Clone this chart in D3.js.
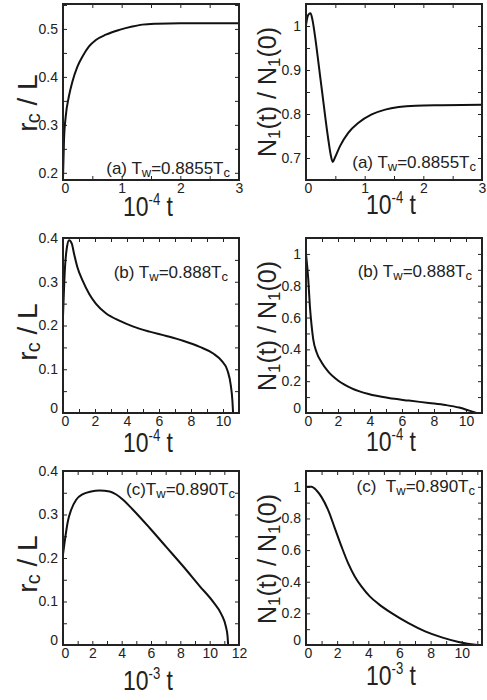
<!DOCTYPE html>
<html><head><meta charset="utf-8">
<script src="https://cdn.jsdelivr.net/npm/d3@7"></script>
<style>
body{margin:0;background:#fff;}
svg{display:block;}
text{font-family:"Liberation Sans",Arial,Helvetica,sans-serif;fill:#222;}
</style></head><body>
<svg id="c" width="487" height="700"></svg>
<script>
// ---- data ----
const tA1 = [0,0.017,0.046,0.1,0.16,0.244,0.33,0.44,0.56,0.73,0.96,1.18,1.35,1.6,2,3];
const rA1 = [0.19,0.268,0.317,0.359,0.39,0.421,0.442,0.463,0.477,0.488,0.498,0.505,0.509,0.511,0.512,0.512];
const tA2 = [0,0.037,0.077,0.11,0.163,0.22,0.277,0.334,0.38,0.426,0.455,0.49,0.58,0.72,0.895,1.12,1.35,1.58,1.87,2.32,3];
const nA2 = [1.002,1.025,1.029,1.014,0.968,0.908,0.848,0.787,0.742,0.704,0.691,0.70,0.727,0.757,0.78,0.799,0.81,0.816,0.819,0.82,0.821];
const tB1 = [0,0.12,0.25,0.38,0.55,0.69,0.9,1.22,1.64,2.05,2.68,3.52,4.36,5.41,6.46,7.5,8.55,9.39,9.92,10.29,10.48,10.59,10.63];
const rB1 = [0.22,0.33,0.38,0.395,0.387,0.364,0.333,0.303,0.272,0.25,0.228,0.211,0.198,0.186,0.176,0.165,0.151,0.136,0.119,0.096,0.065,0.027,0];
const tB2 = [0,0.14,0.24,0.35,0.45,0.66,0.97,1.39,2.02,2.86,3.91,5.17,6.43,7.68,8.73,9.57,10.2,10.68];
const nB2 = [1.0,0.843,0.675,0.549,0.465,0.382,0.319,0.26,0.203,0.155,0.119,0.094,0.078,0.063,0.05,0.034,0.015,0];
const tC1 = [0,0.15,0.33,0.56,0.9,1.36,1.92,2.49,3.18,3.63,4.09,4.77,5.91,7.05,8.19,9.33,10.24,10.81,11.1,11.22,11.26];
const rC1 = [0.208,0.246,0.284,0.311,0.334,0.347,0.353,0.355,0.353,0.346,0.334,0.311,0.269,0.225,0.181,0.135,0.099,0.07,0.043,0.02,0];
const tC2 = [0,0.35,0.68,1.0,1.43,1.86,2.29,2.71,3.14,3.57,4.11,4.65,5.5,6.58,7.65,8.72,9.8,10.87,11.2];
const nC2 = [1.0,1.0,0.977,0.935,0.851,0.736,0.62,0.516,0.432,0.369,0.306,0.26,0.201,0.138,0.086,0.048,0.019,0.002,0];

const xTickLabelsA = [0,1,2,3];
const xTickLabelsBC = [0,2,4,6,8,10];
const xTickLabelsC1 = [0,2,4,6,8,10,12];
const yLabelsA1 = [0.2,0.3,0.4,0.5];
const yLabelsA2 = [0.7,0.8,0.9,1];
const yLabelsR = [0,0.1,0.2,0.3,0.4];
const yLabelsN = [0,0.2,0.4,0.6,0.8,1];

const svg = d3.select("#c");
const cols = [[63,239],[306,482]];
const rows = [[4,180],[238,413],[471,645]];

const panels = [
 {col:0,row:0,t:tA1,v:rA1,xd:[0,3],yd:[0.185,0.552],xt:0.5,xl:xTickLabelsA,yt:0.05,yl:yLabelsA1,
  note:["(a) T","w","=0.8855T","c"],nx:230,ny:174,xlab:"-4",xly:216,ylab:"r",ylx:28,yly:103},
 {col:1,row:0,t:tA2,v:nA2,xd:[0,3],yd:[0.65,1.05],xt:0.5,xl:xTickLabelsA,yt:0.05,yl:yLabelsA2,
  note:["(a) T","w","=0.8855T","c"],nx:476,ny:168,xlab:"-4",xly:214,ylab:"N",ylx:267,yly:92},
 {col:0,row:1,t:tB1,v:rB1,xd:[0,11],yd:[0,0.4],xt:1,xl:xTickLabelsBC,yt:0.05,yl:yLabelsR,
  note:["(b) T","w","=0.888T","c"],nx:228,ny:278,xlab:"-4",xly:452,ylab:"r",ylx:28,yly:332},
 {col:1,row:1,t:tB2,v:nB2,xd:[0,11],yd:[0,1.1],xt:1,xl:xTickLabelsBC,yt:0.1,yl:yLabelsN,
  note:["(b) T","w","=0.888T","c"],nx:472,ny:277,xlab:"-4",xly:451,ylab:"N",ylx:267,yly:326},
 {col:0,row:2,t:tC1,v:rC1,xd:[0,12],yd:[0,0.4],xt:1,xl:xTickLabelsC1,yt:0.05,yl:yLabelsR,
  note:["(c)T","w","=0.890T","c"],nx:235,ny:495,xlab:"-3",xly:690,ylab:"r",ylx:28,yly:564},
 {col:1,row:2,t:tC2,v:nC2,xd:[0,11.3],yd:[0,1.1],xt:1,xl:xTickLabelsBC,yt:0.1,yl:yLabelsN,
  note:["(c)\u00a0\u00a0T","w","=0.890T","c"],nx:475,ny:492,xlab:"-3",xly:685,ylab:"N",ylx:267,yly:559}
];

function range(a,b,s){const r=[];for(let v=a;v<=b+1e-9;v+=s)r.push(+v.toFixed(6));return r;}
function fmtY(d){return d===0?"0":d===1?"1":d3.format(".1f")(d);}

panels.forEach(p=>{
  const [x0,x1]=cols[p.col], [y0,y1]=rows[p.row];
  const x=d3.scaleLinear().domain(p.xd).range([x0,x1]);
  const y=d3.scaleLinear().domain(p.yd).range([y1,y0]);
  const g=svg.append("g");
  const xt=range(Math.ceil(p.xd[0]/p.xt)*p.xt,p.xd[1],p.xt).filter(v=>v>p.xd[0]+1e-6&&v<p.xd[1]-1e-6);
  const yt=range(Math.ceil(p.yd[0]/p.yt)*p.yt,p.yd[1],p.yt).filter(v=>v>p.yd[0]+1e-6&&v<p.yd[1]-1e-6);
  const tl=4;
  const axes=[
    [d3.axisBottom(x).tickValues(xt).tickSize(-tl).tickFormat(""),`translate(0,${y1})`],
    [d3.axisTop(x).tickValues(xt).tickSize(-tl).tickFormat(""),`translate(0,${y0})`],
    [d3.axisLeft(y).tickValues(yt).tickSize(-tl).tickFormat(""),`translate(${x0},0)`],
    [d3.axisRight(y).tickValues(yt).tickSize(-tl).tickFormat(""),`translate(${x1},0)`]
  ];
  axes.forEach(([ax,tr])=>{
    const a=g.append("g").attr("transform",tr).call(ax);
    a.select(".domain").remove();
    a.selectAll("line").attr("stroke","#222").attr("stroke-width",1);
  });
  const bl=g.append("g").attr("transform",`translate(0,${y1})`)
    .call(d3.axisBottom(x).tickValues(p.xl).tickSize(0).tickPadding(3).tickFormat(d3.format("d")));
  bl.select(".domain").remove();
  bl.selectAll("text").attr("font-size",14).attr("font-family","Liberation Sans, Arial, sans-serif").attr("fill","#222")
    .attr("dx",d=>d===p.xd[0]?2:0);
  const ll=g.append("g").attr("transform",`translate(${x0},0)`)
    .call(d3.axisLeft(y).tickValues(p.yl).tickSize(0).tickPadding(5).tickFormat(fmtY));
  ll.select(".domain").remove();
  ll.selectAll("text").attr("font-size",14).attr("font-family","Liberation Sans, Arial, sans-serif").attr("fill","#222")
    .attr("dy",d=>(d===p.yd[0]?"-0.05em":"0.32em"));
  const pts=p.t.map((t,i)=>[t,p.v[i]]);
  g.append("path").datum(pts).attr("fill","none").attr("stroke","#111").attr("stroke-width",2)
    .attr("stroke-linejoin","round")
    .attr("d",d3.line().x(d=>x(d[0])).y(d=>y(d[1])).curve(d3.curveMonotoneX));
  g.append("rect").attr("x",x0).attr("y",y0).attr("width",x1-x0).attr("height",y1-y0)
    .attr("fill","none").attr("stroke","#222").attr("stroke-width",2);
  const nt=g.append("text").attr("x",p.nx).attr("y",p.ny).attr("text-anchor","end").attr("font-size",17);
  nt.append("tspan").text(p.note[0]);
  nt.append("tspan").attr("font-size",13).attr("dy",3).text(p.note[1]);
  nt.append("tspan").attr("dy",-3).text(p.note[2]);
  nt.append("tspan").attr("font-size",13).attr("dy",3).text(p.note[3]);
  const cx=(x0+x1)/2;
  const xl=g.append("text").attr("text-anchor","middle").attr("font-size",28)
    .attr("transform",`translate(${cx-3},${p.xly}) scale(0.82,1)`);
  xl.append("tspan").text("10");
  xl.append("tspan").attr("font-size",16).attr("dy",-11).text(p.xlab);
  xl.append("tspan").attr("dy",11).text(" t");
  const yl=g.append("text").attr("text-anchor","middle")
    .attr("transform",`translate(${p.ylx+9},${p.yly}) rotate(-90)`);
  if(p.ylab==="r"){
    yl.attr("font-size",28);
    yl.append("tspan").text("r");
    yl.append("tspan").attr("font-size",20).attr("dy",3).attr("dx",-1).text("c");
    yl.append("tspan").attr("dy",-3).text(" / L");
  } else {
    yl.attr("font-size",25);
    yl.append("tspan").text("N");
    yl.append("tspan").attr("font-size",17).attr("dy",4).text("1");
    yl.append("tspan").attr("dy",-4).text("(t) / N");
    yl.append("tspan").attr("font-size",17).attr("dy",4).text("1");
    yl.append("tspan").attr("dy",-4).text("(0)");
  }
});
</script>
</body></html>
